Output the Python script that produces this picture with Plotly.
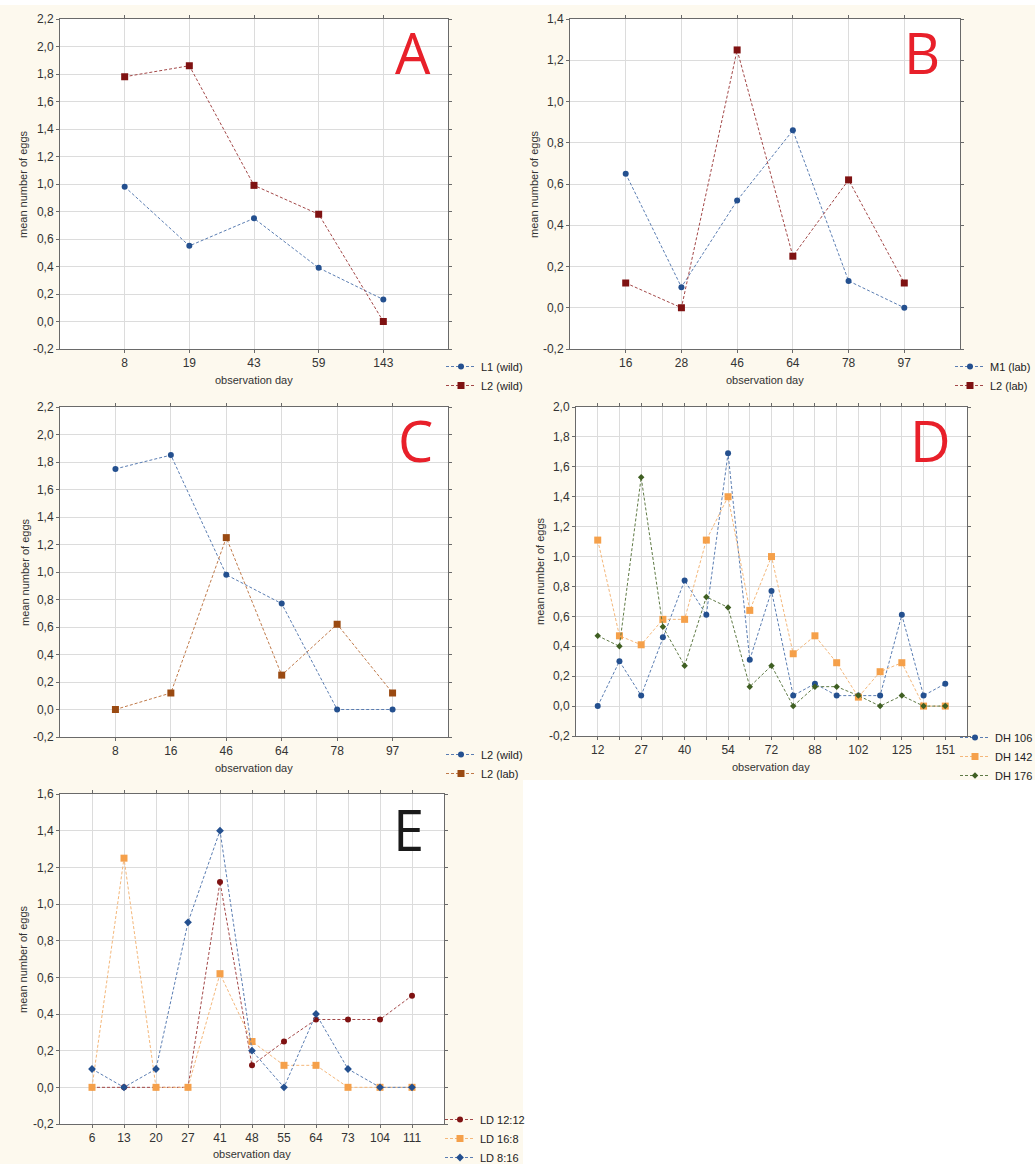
import plotly.graph_objects as go

W, H = 1035, 1164

# ---------------- data ----------------
a_days = ["8", "19", "43", "59", "143"]
a_l1_wild = [0.98, 0.55, 0.75, 0.39, 0.16]
a_l2_wild = [1.78, 1.86, 0.99, 0.78, 0.0]
a_yticks = [-0.2, 0.0, 0.2, 0.4, 0.6, 0.8, 1.0, 1.2, 1.4, 1.6, 1.8, 2.0, 2.2]
a_ytext = ["-0,2", "0,0", "0,2", "0,4", "0,6", "0,8", "1,0", "1,2", "1,4", "1,6", "1,8", "2,0", "2,2"]

b_days = ["16", "28", "46", "64", "78", "97"]
b_m1_lab = [0.65, 0.10, 0.52, 0.86, 0.13, 0.0]
b_l2_lab = [0.12, 0.0, 1.25, 0.25, 0.62, 0.12]
b_yticks = [-0.2, 0.0, 0.2, 0.4, 0.6, 0.8, 1.0, 1.2, 1.4]
b_ytext = ["-0,2", "0,0", "0,2", "0,4", "0,6", "0,8", "1,0", "1,2", "1,4"]

c_days = ["8", "16", "46", "64", "78", "97"]
c_l2_wild = [1.75, 1.85, 0.98, 0.77, 0.0, 0.0]
c_l2_lab = [0.0, 0.12, 1.25, 0.25, 0.62, 0.12]
c_yticks = a_yticks
c_ytext = a_ytext

d_days = ["12", "19", "27", "33", "40", "47", "54", "61", "72", "80",
          "88", "95", "102", "110", "125", "138", "151"]
d_day_labels = ["12", "", "27", "", "40", "", "54", "", "72", "",
                "88", "", "102", "", "125", "", "151"]
d_dh106 = [0.0, 0.30, 0.07, 0.46, 0.84, 0.61, 1.69, 0.31, 0.77, 0.07,
           0.15, 0.07, 0.07, 0.07, 0.61, 0.07, 0.15]
d_dh142 = [1.11, 0.47, 0.41, 0.58, 0.58, 1.11, 1.40, 0.64, 1.00, 0.35,
           0.47, 0.29, 0.06, 0.23, 0.29, 0.0, 0.0]
d_dh176 = [0.47, 0.40, 1.53, 0.53, 0.27, 0.73, 0.66, 0.13, 0.27, 0.0,
           0.13, 0.13, 0.07, 0.0, 0.07, 0.0, 0.0]
d_yticks = [-0.2, 0.0, 0.2, 0.4, 0.6, 0.8, 1.0, 1.2, 1.4, 1.6, 1.8, 2.0]
d_ytext = ["-0,2", "0,0", "0,2", "0,4", "0,6", "0,8", "1,0", "1,2", "1,4", "1,6", "1,8", "2,0"]

e_days = ["6", "13", "20", "27", "41", "48", "55", "64", "73", "104", "111"]
e_ld1212 = [0.0, 0.0, 0.0, 0.0, 1.12, 0.12, 0.25, 0.37, 0.37, 0.37, 0.50]
e_ld168 = [0.0, 1.25, 0.0, 0.0, 0.62, 0.25, 0.12, 0.12, 0.0, 0.0, 0.0]
e_ld816 = [0.10, 0.0, 0.10, 0.90, 1.40, 0.20, 0.0, 0.40, 0.10, 0.0, 0.0]
e_yticks = [-0.2, 0.0, 0.2, 0.4, 0.6, 0.8, 1.0, 1.2, 1.4, 1.6]
e_ytext = ["-0,2", "0,0", "0,2", "0,4", "0,6", "0,8", "1,0", "1,2", "1,4", "1,6"]

# ---------------- styles ----------------
# (marker colour, line colour)
BLUE = ("#24508f", "#5a7db2")
DRED = ("#7f1212", "#a34848")
BROWN = ("#9a4a12", "#c07a4a")
ORANGE = ("#f5a04a", "#f4b77a")
GREEN = ("#3f5f22", "#5f7a45")
CREAM = "#fdf9ee"
FONT = "Liberation Sans, Arial, sans-serif"
DASH = "3px,2px"


def fx(px):
    return px / W


def fy(py):
    return 1 - py / H


fig = go.Figure()

panels = [
    dict(days=a_days, labels=a_days, yt=a_yticks, ytx=a_ytext, yr=[-0.2, 2.2],
         px=(60, 448), py=(19, 349),
         series=[("L1 (wild)", a_l1_wild, BLUE, "circle", 6),
                 ("L2 (wild)", a_l2_wild, DRED, "square", 7)],
         leg=(441, 352), letter=("A", 413, 52, "#e8202a"),
         xt=(254, 380), ytl=(23, 184)),
    dict(days=b_days, labels=b_days, yt=b_yticks, ytx=b_ytext, yr=[-0.2, 1.4],
         px=(570, 960), py=(19, 349),
         series=[("M1 (lab)", b_m1_lab, BLUE, "circle", 6),
                 ("L2 (lab)", b_l2_lab, DRED, "square", 7)],
         leg=(950, 352), letter=("B", 922, 52, "#e8202a"),
         xt=(765, 380), ytl=(534, 184)),
    dict(days=c_days, labels=c_days, yt=c_yticks, ytx=c_ytext, yr=[-0.2, 2.2],
         px=(60, 448), py=(407, 737),
         series=[("L2 (wild)", c_l2_wild, BLUE, "circle", 6),
                 ("L2 (lab)", c_l2_lab, BROWN, "square", 7)],
         leg=(441, 740), letter=("C", 415, 440, "#e8202a"),
         xt=(254, 768), ytl=(25, 572)),
    dict(days=d_days, labels=d_day_labels, yt=d_yticks, ytx=d_ytext, yr=[-0.2, 2.0],
         px=(576, 967), py=(407, 736),
         series=[("DH 106", d_dh106, BLUE, "circle", 6),
                 ("DH 142", d_dh142, ORANGE, "square", 7),
                 ("DH 176", d_dh176, GREEN, "diamond", 5)],
         leg=(955, 723), letter=("D", 930, 440, "#e8202a"),
         xt=(771, 767), ytl=(540, 571)),
    dict(days=e_days, labels=e_days, yt=e_yticks, ytx=e_ytext, yr=[-0.2, 1.6],
         px=(60, 444), py=(794, 1124),
         series=[("LD 12:12", e_ld1212, DRED, "circle", 6),
                 ("LD 16:8", e_ld168, ORANGE, "square", 7),
                 ("LD 8:16", e_ld816, BLUE, "diamond", 6)],
         leg=(440, 1105), letter=("E", 408, 829, "#1a1a1a"),
         xt=(252, 1154), ytl=(23, 959)),
]

layout_axes = {}
annotations = []
for i, p in enumerate(panels, start=1):
    xa = "x" if i == 1 else f"x{i}"
    ya = "y" if i == 1 else f"y{i}"
    lg = "legend" if i == 1 else f"legend{i}"
    for name, vals, (mcol, lcol), sym, sz in p["series"]:
        fig.add_trace(go.Scatter(
            x=p["days"], y=vals, name=name, mode="lines+markers",
            xaxis=xa, yaxis=ya, legend=lg,
            line=dict(color=lcol, width=1, dash=DASH),
            marker=dict(color=mcol, symbol=sym, size=sz, line=dict(width=0)),
            cliponaxis=False,
        ))
    n = len(p["days"])
    layout_axes["xaxis" if i == 1 else f"xaxis{i}"] = dict(
        domain=[fx(p["px"][0]), fx(p["px"][1])],
        anchor=ya, type="category", categoryorder="array", categoryarray=p["days"],
        range=[-1, n], tickmode="array", tickvals=p["days"], ticktext=p["labels"],
        showgrid=True, gridcolor="#dcdcdc", gridwidth=1,
        showline=True, linecolor="#6a6a6a", linewidth=1, mirror="ticks",
        ticks="outside", ticklen=3, tickcolor="#6a6a6a",
        tickfont=dict(family=FONT, size=12, color="#333333"), zeroline=False,
        fixedrange=True,
    )
    layout_axes["yaxis" if i == 1 else f"yaxis{i}"] = dict(
        domain=[fy(p["py"][1]), fy(p["py"][0])],
        anchor=xa, range=p["yr"], tickmode="array", tickvals=p["yt"], ticktext=p["ytx"],
        showgrid=True, gridcolor="#dcdcdc", gridwidth=1,
        showline=True, linecolor="#6a6a6a", linewidth=1, mirror="ticks",
        ticks="outside", ticklen=3, tickcolor="#6a6a6a",
        tickfont=dict(family=FONT, size=12, color="#333333"), zeroline=False,
        fixedrange=True,
    )
    layout_axes[lg] = dict(
        x=fx(p["leg"][0]), y=fy(p["leg"][1]), xanchor="left", yanchor="top",
        bgcolor="rgba(0,0,0,0)", borderwidth=0, itemwidth=30,
        font=dict(family=FONT, size=11, color="#222222"),
        tracegroupgap=0, itemclick=False, itemdoubleclick=False,
    )
    letter, lx, ly, lc = p["letter"]
    annotations.append(dict(
        text=letter, x=fx(lx), y=fy(ly), xref="paper", yref="paper",
        xanchor="center", yanchor="middle", showarrow=False,
        font=dict(family="Open Sans, sans-serif", size=56, color=lc),
    ))
    annotations.append(dict(
        text="observation day", x=fx(p["xt"][0]), y=fy(p["xt"][1]),
        xref="paper", yref="paper", xanchor="center", yanchor="middle",
        showarrow=False, font=dict(family=FONT, size=11, color="#333333"),
    ))
    annotations.append(dict(
        text="mean number of eggs", x=fx(p["ytl"][0]), y=fy(p["ytl"][1]),
        xref="paper", yref="paper", xanchor="center", yanchor="middle",
        textangle=-90, showarrow=False,
        font=dict(family=FONT, size=11, color="#333333"),
    ))

shapes = [
    dict(type="rect", xref="paper", yref="paper", x0=0, x1=1, y0=fy(5), y1=1,
         fillcolor="white", line=dict(width=0), layer="below"),
    dict(type="rect", xref="paper", yref="paper", x0=fx(523), x1=1, y0=0, y1=fy(780),
         fillcolor="white", line=dict(width=0), layer="below"),
]

fig.update_layout(
    width=W, height=H, autosize=False,
    margin=dict(l=0, r=0, t=0, b=0, pad=0, autoexpand=False),
    paper_bgcolor=CREAM, plot_bgcolor="white",
    showlegend=True, annotations=annotations, shapes=shapes,
    font=dict(family=FONT),
    **layout_axes,
)

fig.write_html(
    "out.html",
    config={"displayModeBar": False},
    post_script="document.body.style.margin='0px';document.body.style.overflow='hidden';"
                "document.documentElement.style.overflow='hidden';",
)
